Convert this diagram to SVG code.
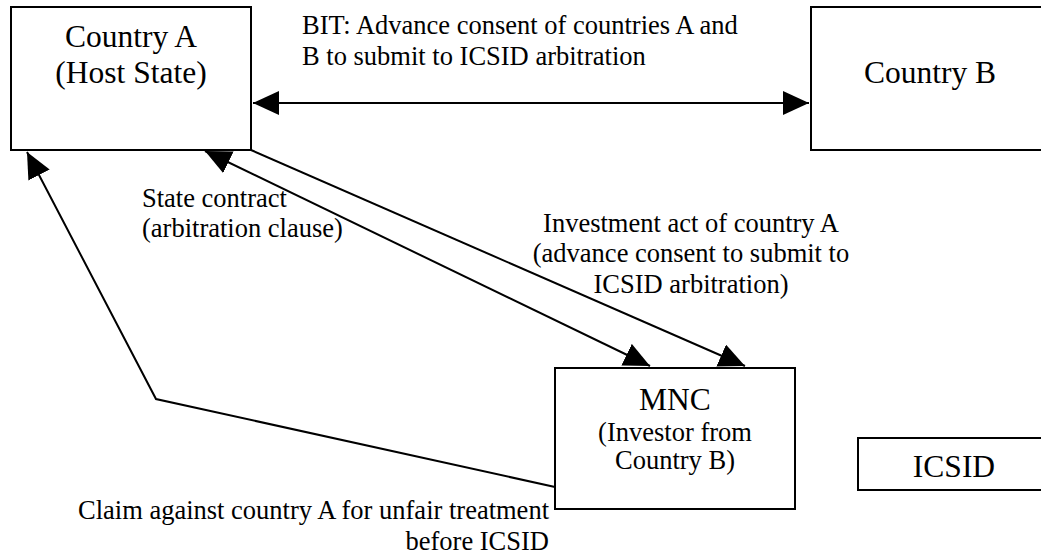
<svg xmlns="http://www.w3.org/2000/svg" width="1041" height="557" viewBox="0 0 1041 557">
<style>
.box{fill:#fff;stroke:#000;stroke-width:2}
.ln{fill:none;stroke:#000;stroke-width:2}
text{font-family:"Liberation Serif",serif;fill:#000}
.big{font-size:31.5px}
.lbl{font-size:26.5px}
.mid{text-anchor:middle}
.end{text-anchor:end}
.t2{font-family:"DejaVu Serif",serif}
</style>
<defs>
<marker id="ah" viewBox="0 0 26 24" refX="26" refY="12" markerWidth="26" markerHeight="24" markerUnits="userSpaceOnUse" orient="auto-start-reverse">
<path d="M0,0 L26,12 L0,24 z" fill="#000"/>
</marker>
</defs>
<rect width="1041" height="557" fill="#fff"/>
<g id="connectors">
<line class="ln" x1="253" y1="103" x2="809" y2="103" marker-start="url(#ah)" marker-end="url(#ah)"/>
<line class="ln" x1="205" y1="151" x2="650" y2="366" marker-start="url(#ah)" marker-end="url(#ah)"/>
<line class="ln" x1="251" y1="150" x2="745" y2="366" marker-end="url(#ah)"/>
<polyline class="ln" points="555,487 156,399 27,152" marker-end="url(#ah)"/>
</g>
<g id="countryA">
<rect class="box" x="11" y="7" width="240" height="143"/>
<text class="big mid" x="131" y="47">Country A</text>
<text class="big mid" x="131" y="83">(Host State)</text>
</g>
<g id="countryB">
<rect class="box" x="811" y="7" width="240" height="143"/>
<text class="big mid" x="930" y="83">Country B</text>
</g>
<g id="mnc">
<rect class="box" x="555" y="368" width="240" height="141"/>
<text class="big mid" x="675" y="410">MNC</text>
<text class="lbl mid" x="675" y="441">(Investor from</text>
<text class="lbl mid" x="675" y="469">Country B)</text>
</g>
<g id="icsid">
<rect class="box" x="858" y="438" width="192" height="52"/>
<text class="big mid" x="954" y="477">ICSID</text>
</g>
<g id="labels">
<text class="lbl" x="302" y="34">BIT: Advance consent of countries A and</text>
<text class="lbl" x="302" y="65">B to submit to ICSID arbitration</text>
<text class="lbl" x="142" y="207">State contract</text>
<text class="lbl" x="142" y="237">(arbitration clause)</text>
<text class="lbl mid" x="691" y="232">Investment act of country A</text>
<text class="lbl mid" x="691" y="262">(advance consent to submit to</text>
<text class="lbl mid" x="691" y="293">ICSID arbitration)</text>
<text class="lbl end" x="549" y="519">Claim against country A for unfair treatment</text>
<text class="lbl end" x="549" y="550">before ICSID</text>
</g>
</svg>
